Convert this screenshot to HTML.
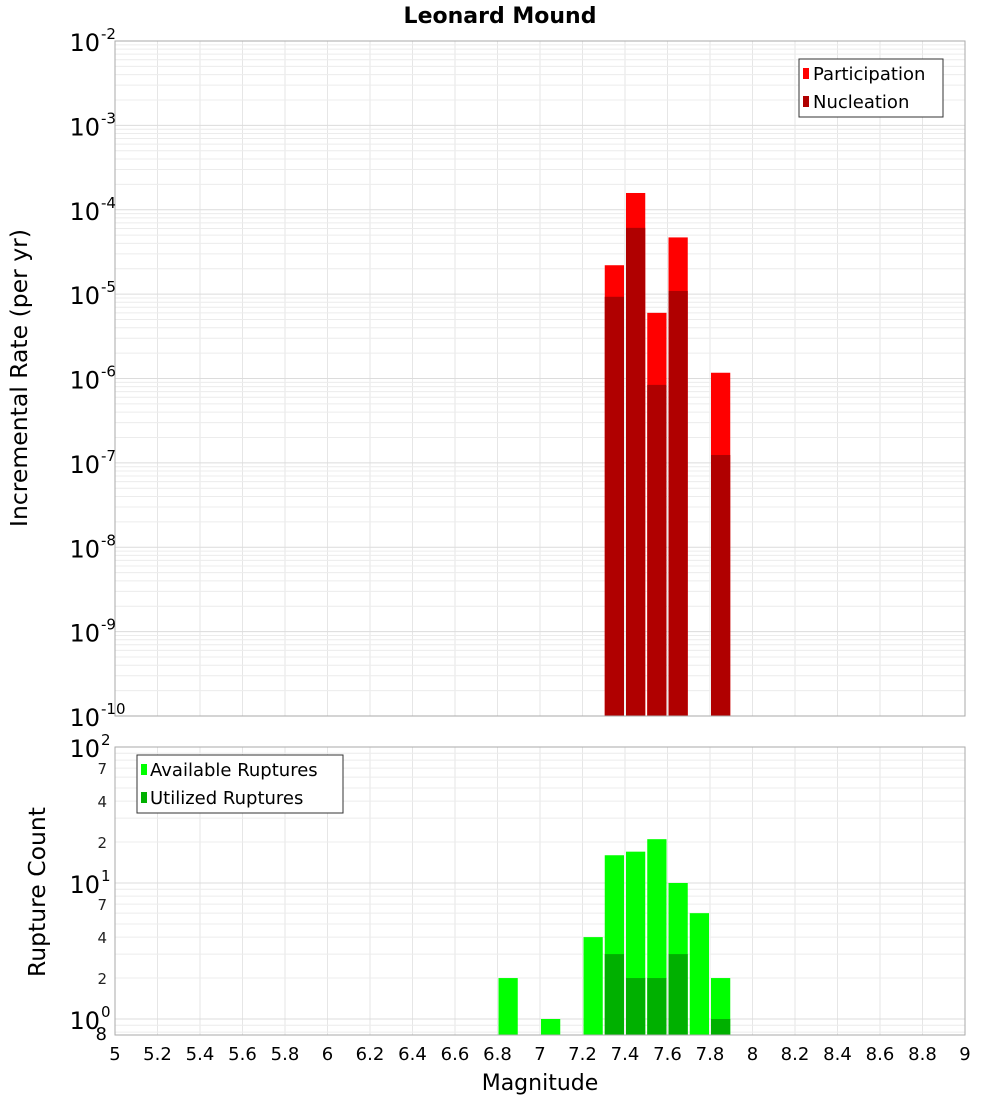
<!DOCTYPE html>
<html><head><meta charset="utf-8"><style>
body{margin:0;background:#fff;font-family:"Liberation Sans","DejaVu Sans",sans-serif;}
svg text{font-family:"DejaVu Sans","Liberation Sans",sans-serif;}
</style></head><body>
<svg id="chart" width="1000" height="1100" xmlns="http://www.w3.org/2000/svg">
<text x="500" y="23" text-anchor="middle" font-size="22" font-weight="bold">Leonard Mound</text>
<g id="top-grid"></g><g id="top-bars"></g>
<rect x="115" y="41" width="850" height="675" fill="none" stroke="#aaa"/>
<g id="top-yticks"></g>
<text transform="translate(27,378) rotate(-90)" text-anchor="middle" font-size="23.5">Incremental Rate (per yr)</text>
<g>
<rect x="799" y="59" width="144" height="58" fill="#fff" stroke="#333"/>
<rect x="803" y="68" width="6" height="11" fill="#ff0000"/>
<text x="813" y="80" font-size="18">Participation</text>
<rect x="803" y="96" width="6" height="11" fill="#b00000"/>
<text x="813" y="108" font-size="18">Nucleation</text>
</g>
<g id="bot-grid"></g><g id="bot-bars"></g>
<rect x="115" y="747" width="850" height="288" fill="none" stroke="#aaa"/>
<g id="bot-yticks"></g>
<text transform="translate(45,892) rotate(-90)" text-anchor="middle" font-size="23.5">Rupture Count</text>
<g>
<rect x="137" y="755" width="206" height="58" fill="#fff" stroke="#333"/>
<rect x="141" y="764" width="6" height="11" fill="#00ff00"/>
<text x="150" y="776" font-size="18">Available Ruptures</text>
<rect x="141" y="792" width="6" height="11" fill="#00b000"/>
<text x="150" y="804" font-size="18">Utilized Ruptures</text>
</g>
<g id="xticks"></g>
<text x="540" y="1090" text-anchor="middle" font-size="22">Magnitude</text>
</svg>
<script>
const topMags=[7.35,7.45,7.55,7.65,7.85];
const participation=[2.2e-5,1.58e-4,6e-6,4.7e-5,1.17e-6];
const nucleation=[9.3e-6,6.1e-5,8.4e-7,1.09e-5,1.24e-7];
const botMags=[6.85,7.05,7.25,7.35,7.45,7.55,7.65,7.75,7.85];
const available=[2,1,4,16,17,21,10,6,2];
const utilMags=[7.35,7.45,7.55,7.65,7.85];
const utilized=[3,2,2,3,1];
const xTicks=[5,5.2,5.4,5.6,5.8,6,6.2,6.4,6.6,6.8,7,7.2,7.4,7.6,7.8,8,8.2,8.4,8.6,8.8,9];
const topExps=[-2,-3,-4,-5,-6,-7,-8,-9,-10];
const botMinorLabels=[2,4,7];

const NS="http://www.w3.org/2000/svg";
const X=m=>115+(m-5)*212.5;
const YT=v=>41+(-2-Math.log10(v))*84.375;
const YB=v=>1019-Math.log10(v)*136;
function mk(parent,tag,attrs){const e=document.createElementNS(NS,tag);for(const k in attrs)e.setAttribute(k,attrs[k]);document.getElementById(parent).appendChild(e);return e;}

for(const t of xTicks){
  const g1=mk('top-grid','line',{x1:X(t),x2:X(t),y1:41,y2:716,stroke:'#e6e6e6'});
  
  
  const g2=mk('bot-grid','line',{x1:X(t),x2:X(t),y1:747,y2:1035,stroke:'#e6e6e6'});
  
  
  const tl=mk('xticks','text',{x:X(t),y:1060,'text-anchor':'middle','font-size':18});
  tl.textContent=String(t);
  
  
}
for(let e=-10;e<-2;e++){for(let k=1;k<10;k++){const y=YT(k*Math.pow(10,e));
  const l=mk('top-grid','line',{x1:115,x2:965,y1:y,y2:y,stroke:k==1?'#dcdcdc':'#ececec'});
  
  }}
for(const e of topExps){const y=YT(Math.pow(10,e));
  const t=mk('top-yticks','text',{x:100,y:y+10,'text-anchor':'end','font-size':24});
  t.textContent='10';
  
  
  const s=mk('top-yticks','text',{x:101,y:y-2,'font-size':15});
  s.textContent=String(e);
  
  }
for(let e=-1;e<2;e++){for(let k=1;k<10;k++){const v=k*Math.pow(10,e);const y=YB(v);if(y>1035||y<747)continue;
  const l=mk('bot-grid','line',{x1:115,x2:965,y1:y,y2:y,stroke:k==1?'#dcdcdc':'#ececec'});
  
  }}
for(const e of [0,1,2]){const y=YB(Math.pow(10,e));
  const t=mk('bot-yticks','text',{x:100,y:y+10,'text-anchor':'end','font-size':24});
  t.textContent='10';
  
  
  const s=mk('bot-yticks','text',{x:101,y:y-2,'font-size':15});
  s.textContent=String(e);
  
  
  if(e<2)for(const k of botMinorLabels){const yy=YB(k*Math.pow(10,e));
    const m=mk('bot-yticks','text',{x:107,y:yy+6,'text-anchor':'end','font-size':15,fill:'#222'});
    m.textContent=String(k);
    
    }}
{const m=mk('bot-yticks','text',{x:107,y:YB(0.8)+8,'text-anchor':'end','font-size':18});
 m.textContent='8';
 
 }

const bw=212.5*0.1;
function bar(g,m,top,bottom,fill,name){const r=mk(g,'rect',{x:X(m)-bw/2+1,y:top,width:bw-2,height:Math.max(0,bottom-top),fill:fill});
  
  }
topMags.forEach((m,i)=>{bar('top-bars',m,YT(participation[i]),716,'#ff0000','participation-bar');
  bar('top-bars',m,YT(nucleation[i]),716,'#b00000','nucleation-bar');});
botMags.forEach((m,i)=>bar('bot-bars',m,YB(available[i]),1035,'#00ff00','available-bar'));
utilMags.forEach((m,i)=>bar('bot-bars',m,YB(utilized[i]),1035,'#00b000','utilized-bar'));
</script>
</body></html>
